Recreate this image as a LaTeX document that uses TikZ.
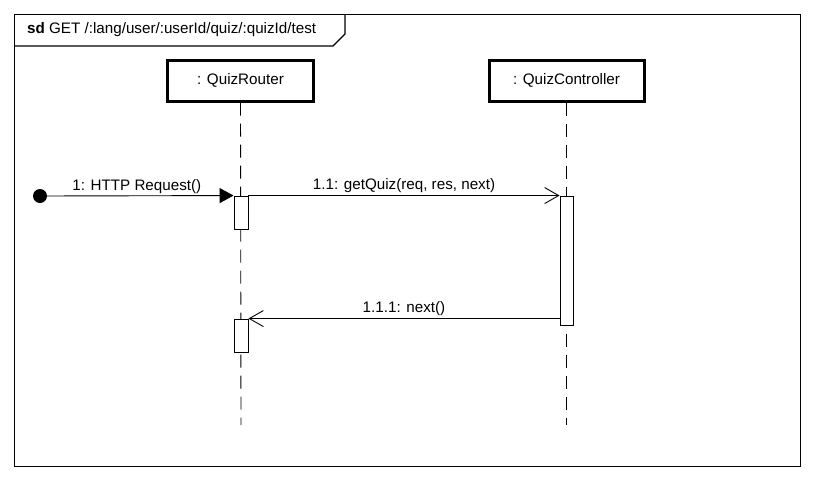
\documentclass[tikz,border=0pt]{standalone}
\usepackage{fontspec}
\setmainfont{Liberation Sans}
\usetikzlibrary{arrows.meta}
\begin{document}
\begin{tikzpicture}[x=1pt,y=-1pt,
  every node/.style={font=\fontsize{15.2}{18}\selectfont},
  head/.style={draw, line width=3pt, minimum height=41pt, inner sep=0pt},
  act/.style={draw, line width=0.9pt, fill=white, minimum width=14pt, inner sep=0pt},
  life/.style={line width=0.9pt, dash pattern=on 13pt off 8pt},
  msg/.style={line width=0.9pt},
  lbl/.style={above, inner sep=2pt}
]
\useasboundingbox (0,0) rectangle (813,480);
% frame
\node[draw, line width=1.2pt, minimum width=786pt, minimum height=452pt, anchor=north west, inner sep=0pt] (frame) at (14,14) {};
\draw[line width=1.2pt] (14,46) -- (333,46) -- (345,34) -- (345,14);
\node[anchor=west, inner sep=0pt] (title) at (27,30) {\textbf{sd} GET /:lang/user/:userId/quiz/:quizId/test};
% lifeline heads
\node[head, minimum width=146pt] (router) at (240.5,80.5) {: QuizRouter};
\node[head, minimum width=155pt] (ctrl) at (566.5,80.5) {: QuizController};
\coordinate (rend) at (241,425);
\coordinate (cend) at (566.5,425);
\draw[life] (router.south) -- (rend);
\draw[life] (ctrl.south) -- (cend);
% activations
\node[act, minimum height=33pt] (a1) at (241,212.5) {};
\node[act, minimum width=13pt, minimum height=129pt] (a2) at (566.5,260.5) {};
\node[act, minimum height=33pt] (a3) at (241,335.5) {};
% found message
\node[circle, fill=black, minimum size=14pt, inner sep=0pt] (start) at (40,196) {};
\draw[msg, -{Triangle[length=14pt,width=15pt]}] (start.center) -- node[lbl] {1: HTTP Request()} (a1.north west);
\draw[msg, -{Straight Barb[length=14pt,width=16pt,line width=0.9pt]}] (a1.north east) -- node[lbl] {1.1: getQuiz(req, res, next)} (a2.north west);
\coordinate (r1) at (a2.west |- a3.north);
\draw[msg, -{Straight Barb[length=14pt,width=16pt,line width=0.9pt]}] (r1) -- node[lbl] {1.1.1: next()} (a3.north east);
\end{tikzpicture}
\end{document}
